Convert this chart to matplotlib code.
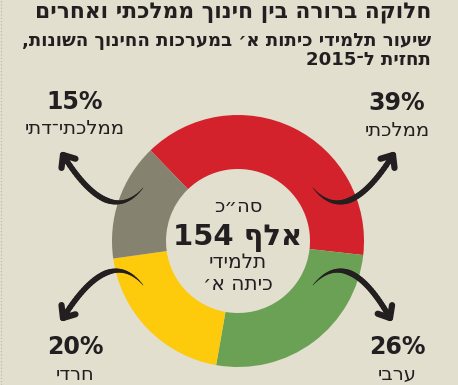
import numpy as np
import matplotlib
matplotlib.use("Agg")
import matplotlib.pyplot as plt
from matplotlib.collections import LineCollection

plt.rcParams['font.family'] = ['DejaVu Sans']

# ---------------- data ----------------
categories = ["ממלכתי", "ערבי", "חרדי", "ממלכתי־דתי"]
values = [39, 26, 20, 15]
colors = ["#d3222b", "#6aa154", "#fdca0c", "#868270"]
title = "חלוקה ברורה בין חינוך ממלכתי ואחרים"
subtitle1 = "שיעור תלמידי כיתות א׳ במערכות החינוך השונות,"
subtitle2 = "תחזית ל־2015"
center_lines = ["סה״כ", "אלף 154", "תלמידי", "כיתה א׳"]

BG = "#e2dfcf"
INK = "#231f20"
W, H = 458, 385


def visual(s):
    """Convert logical RTL string to visual LTR order (digit runs kept)."""
    r = s[::-1]
    out, buf = [], []
    for ch in r:
        if ch.isdigit():
            buf.append(ch)
        else:
            if buf:
                out.append("".join(buf[::-1]))
                buf = []
            out.append(ch)
    if buf:
        out.append("".join(buf[::-1]))
    return "".join(out)


fig = plt.figure(figsize=(W / 100, H / 100), dpi=100, facecolor=BG)
ax = fig.add_axes([0, 0, 1, 1])
ax.set_facecolor(BG)

def py(y):
    return H - y

# donut
cx, cy, R, width = 238, py(241), 126, 54
ax.pie(values, colors=colors, startangle=134, counterclock=False,
       center=(cx, cy), radius=R,
       wedgeprops=dict(width=width, linewidth=0))
ax.set_xlim(0, W)
ax.set_ylim(0, H)
ax.set_aspect('equal')
ax.axis('off')

# left dotted border
ax.plot([1, 1], [0, H], color="#b9b5a6", lw=0.8, ls=(0, (1, 2)))

# titles
ax.text(431, py(14), visual(title), ha='right', va='center',
        fontsize=15.7, fontweight='bold', color=INK)
ax.text(431, py(41), visual(subtitle1), ha='right', va='center',
        fontsize=13.1, fontweight='bold', color=INK)
ax.text(431, py(60), visual(subtitle2), ha='right', va='center',
        fontsize=13.1, fontweight='bold', color=INK)

# labels
label_pos = [(397, 103), (397, 347), (75, 347), (75, 102)]
for (lx, ly), v, c in zip(label_pos, values, categories):
    ax.text(lx, py(ly), f"{v}%", ha='center', va='center',
            fontsize=17, fontweight='bold', color=INK)
    ax.text(lx, py(ly + 27), visual(c), ha='center', va='center',
            fontsize=14, color=INK)

# center text
ax.text(cx, py(207), visual(center_lines[0]), ha='center', va='center',
        fontsize=14, color=INK)
ax.text(cx, py(238), visual(center_lines[1]), ha='center', va='center',
        fontsize=21, fontweight='bold', color=INK)
ax.text(cx, py(263), visual(center_lines[2]), ha='center', va='center',
        fontsize=14.5, color=INK)
ax.text(cx, py(284), visual(center_lines[3]), ha='center', va='center',
        fontsize=14.5, color=INK)

# curved tapered arrows: (start, via, tip) in pixel coords
arrows = [((313, 188), (350, 200), (393, 155)),
          ((313, 285), (350, 273), (390, 318)),
          ((143, 285), (106, 273), (63, 318)),
          ((143, 188), (106, 200), (63, 155))]

t = np.linspace(0, 1, 40)
for s, m, e in arrows:
    S = np.array([s[0], py(s[1])], float)
    M = np.array([m[0], py(m[1])], float)
    E = np.array([e[0], py(e[1])], float)
    C = 2 * M - 0.5 * (S + E)
    pts = ((1 - t)[:, None] ** 2) * S + (2 * (1 - t) * t)[:, None] * C + (t[:, None] ** 2) * E
    segs = np.stack([pts[:-1], pts[1:]], axis=1)
    lws = np.concatenate([np.linspace(0.4, 4.0, 20), np.full(19, 4.0)])
    ax.add_collection(LineCollection(segs, linewidths=lws, colors=INK,
                                     capstyle='round'))
    d = E - pts[-4]
    d = d / np.linalg.norm(d)
    for ang in (np.deg2rad(40), np.deg2rad(-40)):
        rot = np.array([[np.cos(ang), -np.sin(ang)], [np.sin(ang), np.cos(ang)]])
        b = E - 13 * rot @ d
        ax.plot([E[0], b[0]], [E[1], b[1]], color=INK, lw=4.5,
                solid_capstyle='round')

fig.savefig("out.png", dpi=100, facecolor=BG)
